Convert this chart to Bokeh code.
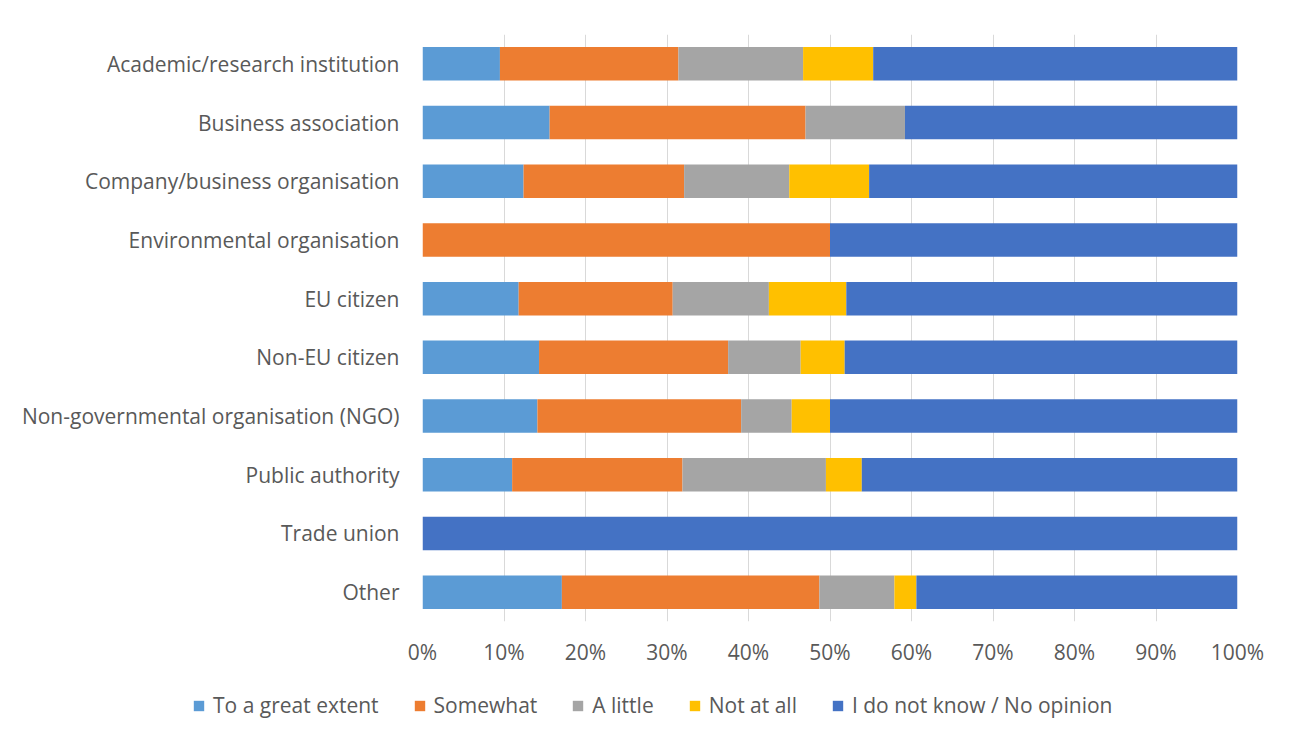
from bokeh.plotting import figure
from bokeh.layouts import column
from bokeh.models import (Range1d, FactorRange, SingleIntervalTicker, PrintfTickFormatter,
                          Legend, LegendItem, ColumnDataSource)
from bokeh.embed import file_html
from bokeh.resources import INLINE

categories = ["Academic/research institution", "Business association",
              "Company/business organisation", "Environmental organisation",
              "EU citizen", "Non-EU citizen", "Non-governmental organisation (NGO)",
              "Public authority", "Trade union", "Other"]
series_names = ["To a great extent", "Somewhat", "A little", "Not at all",
                "I do not know / No opinion"]
great_extent = [9.5, 15.6, 12.4, 0.0, 11.8, 14.3, 14.1, 11.0, 0.0, 17.1]
somewhat     = [21.9, 31.4, 19.7, 50.0, 18.9, 23.2, 25.0, 20.9, 0.0, 31.6]
a_little     = [15.3, 12.2, 12.9, 0.0, 11.8, 8.9, 6.2, 17.6, 0.0, 9.2]
not_at_all   = [8.6, 0.0, 9.8, 0.0, 9.5, 5.4, 4.7, 4.4, 0.0, 2.7]
no_opinion   = [44.7, 40.8, 45.2, 50.0, 48.0, 48.2, 50.0, 46.1, 100.0, 39.4]
colors = ["#5B9BD5", "#ED7D31", "#A5A5A5", "#FFC000", "#4472C4"]

keys = ["s0", "s1", "s2", "s3", "s4"]
source = ColumnDataSource(dict(cat=categories, s0=great_extent, s1=somewhat,
                               s2=a_little, s3=not_at_all, s4=no_opinion))

FONT = "Open Sans"
TXT = "#595959"
FS = "21px"

p = figure(width=1280, height=672, output_backend="svg", toolbar_location=None,
           y_range=FactorRange(*list(reversed(categories)), range_padding=0),
           x_range=Range1d(0, 100),
           min_border_left=422, min_border_right=43, min_border_top=34,
           min_border_bottom=51)
p.outline_line_color = None

renderers = p.hbar_stack(keys, y="cat", height=0.57, color=colors, source=source,
                         line_color=None)

p.xaxis.ticker = SingleIntervalTicker(interval=10)
p.xaxis.formatter = PrintfTickFormatter(format="%d%%")
p.xgrid.ticker = SingleIntervalTicker(interval=10)
p.xgrid.grid_line_color = "#D9D9D9"
p.xgrid.grid_line_width = 1
p.ygrid.grid_line_color = None

for ax in (p.xaxis[0], p.yaxis[0]):
    ax.axis_line_color = None
    ax.major_tick_line_color = None
    ax.minor_tick_line_color = None
    ax.major_label_text_font = FONT
    ax.major_label_text_color = TXT
    ax.major_label_text_font_size = FS
p.xaxis.major_label_standoff = 10
p.yaxis.major_label_standoff = 17

# Legend-only figure under the chart. Its stacked bars use the same data but are
# hidden, so only the legend is visible.
lf = figure(width=1280, height=68, output_backend="svg", toolbar_location=None,
            x_range=Range1d(0, 1), y_range=FactorRange(*categories),
            min_border_left=0, min_border_right=0, min_border_top=0, min_border_bottom=0)
lf.extra_x_ranges = {"off": Range1d(-1100, -1000)}
try:
    lf.frame_align = False
except Exception:
    pass
lf.axis.visible = False
lf.grid.visible = False
lf.outline_line_color = None
proxies = lf.hbar_stack(keys, y="cat", height=0.57, color=colors, source=source,
                        line_color=None, x_range_name="off")
for r in proxies:
    r.visible = False

legend = Legend(items=[LegendItem(label=n, renderers=[r]) for n, r in zip(series_names, proxies)],
                orientation="horizontal", location=(192, 21),
                label_text_font=FONT, label_text_color=TXT, label_text_font_size=FS,
                glyph_width=13, glyph_height=13, label_standoff=8, spacing=34,
                border_line_color=None, background_fill_alpha=0, margin=0, padding=4,
                inactive_fill_alpha=0)
lf.add_layout(legend, "center")

layout = column(p, lf, spacing=0)
open("out.html", "w").write(file_html(layout, INLINE))
